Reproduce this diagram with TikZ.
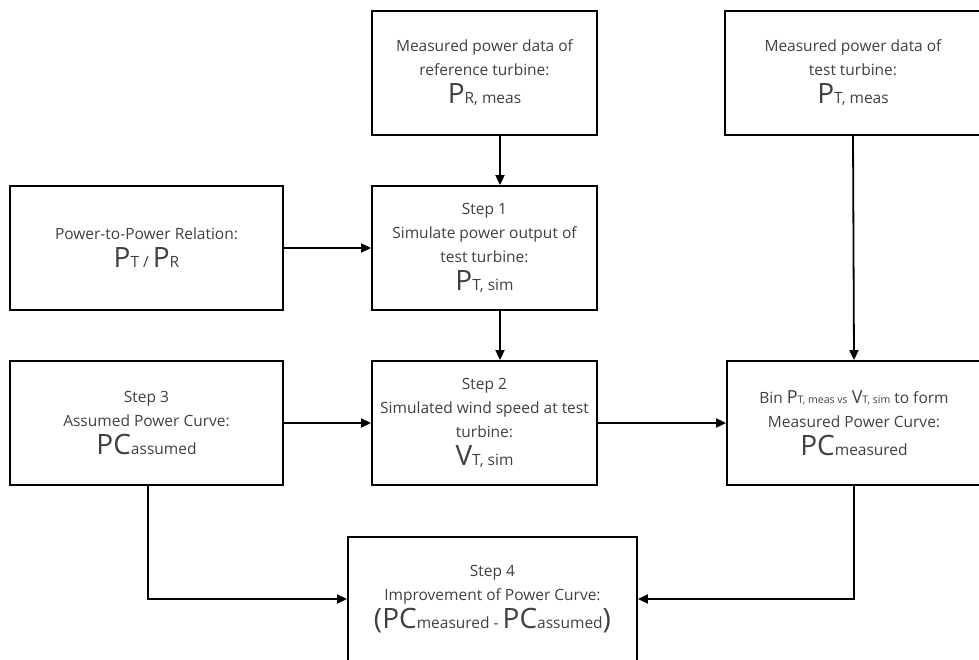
\documentclass[tikz,border=0pt]{standalone}
\usepackage{fontspec}
\setmainfont{Open Sans}
\usetikzlibrary{arrows.meta}
\definecolor{txtgray}{HTML}{404040}
\newcommand{\bigsym}[1]{{\fontsize{28}{28}\selectfont #1}}
\newcommand{\midsym}[1]{{\fontsize{18}{18}\selectfont #1}}
\newcommand{\tinysub}[1]{{\fontsize{10.5}{10.5}\selectfont #1}}
\tikzset{
  box/.style={draw, line width=1.8pt, rectangle, align=center, text=txtgray,
    font=\fontsize{15.5}{24}\selectfont, inner sep=0pt,
    minimum width=225pt, minimum height=124pt},
  widebox/.style={box, minimum width=273pt},
  link/.style={->, line width=1.8pt},
}
\begin{document}
\begin{tikzpicture}[x=1pt, y=-1pt, >={Triangle[length=10pt,width=9pt]}]
		% Rahmen
		\useasboundingbox (0,0) rectangle (979,659);
		
		% obere Reihe
		\node[box] (refmeas) at (484.5,73)
		{Measured power data of\\ reference turbine:\\[4pt] \bigsym{P}R, meas};
		\node[box, minimum width=256pt] (testmeas) at (853,73)
		{Measured power data of\\ test turbine:\\[4pt] \bigsym{P}T, meas};
		
		% mittlere Reihe
		\node[widebox] (ptop) at (146.5,248)
		{Power-to-Power Relation:\\[4pt] \bigsym{P}T / \bigsym{P}R};
		\node[box] (stepone) at (484.5,248)
		{Step 1\\ Simulate power output of\\ test turbine:\\[4pt] \bigsym{P}T, sim};
		
		% untere Reihe
		\node[widebox] (stepthree) at (146.5,423)
		{Step 3\\ Assumed Power Curve:\\[4pt] \bigsym{PC}assumed};
		\node[box] (steptwo) at (484.5,423)
		{Step 2\\ Simulated wind speed at test\\ turbine:\\[4pt] \bigsym{V}T, sim};
		\node[box, minimum width=254pt] (bin) at (854,423)
		{Bin \midsym{P}\tinysub{T, meas vs} \midsym{V}\tinysub{T, sim} to form\\
		 Measured Power Curve:\\[4pt] \bigsym{PC}measured};
		
		% Ergebnis
		\node[box, minimum width=289pt] (stepfour) at (492.5,599)
		{Step 4\\ Improvement of Power Curve:\\[4pt]
		 \bigsym{(PC}measured - \bigsym{PC}assumed\bigsym{)}};
		
		% Pfeile
		\draw[link] ([xshift=15.5pt]refmeas.south) -- ([xshift=15.5pt]stepone.north);
		\draw[link] ([xshift=15.5pt]stepone.south) -- ([xshift=15.5pt]steptwo.north);
		\draw[link] (ptop.east) -- (stepone.west);
		\draw[link] (testmeas.south) -- (bin.north);
		\draw[link] (stepthree.east) -- (steptwo.west);
		\draw[link] (steptwo.east) -- (bin.west);
		\draw[link] ([xshift=1.5pt]stepthree.south) |- (stepfour.west);
		\draw[link] (bin.south) |- (stepfour.east);
		
\end{tikzpicture}
\end{document}
